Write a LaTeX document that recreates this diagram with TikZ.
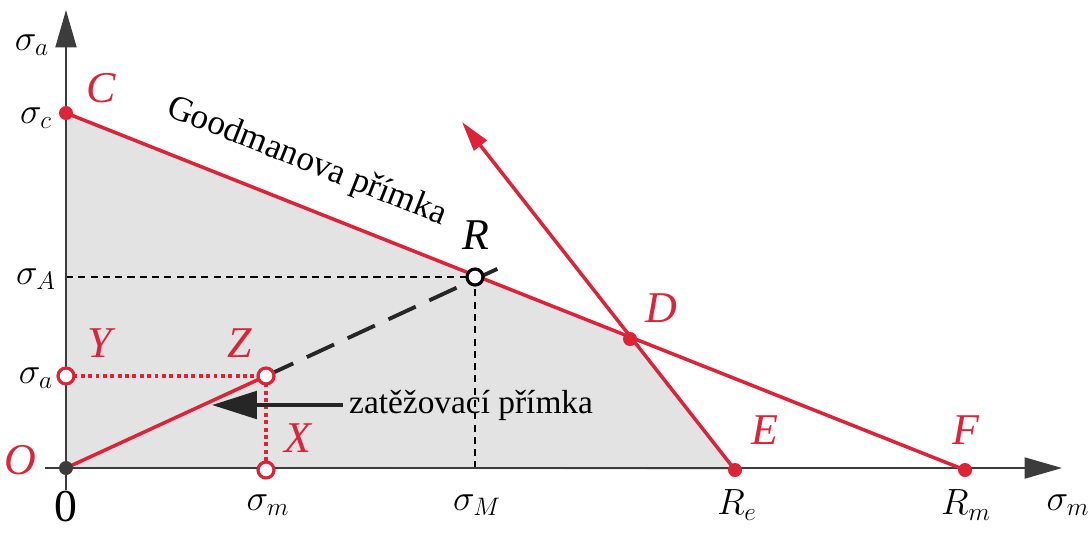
\documentclass[tikz,border=0pt]{standalone}
\usepackage{fontspec}
\setmainfont{Liberation Serif}
\usetikzlibrary{arrows.meta,positioning,calc}

\definecolor{goodred}{RGB}{220,35,55}
\definecolor{axisgray}{RGB}{60,60,60}

\begin{document}
\begin{tikzpicture}[
    x=0.02cm, y=-0.02cm,
    font=\fontsize{21}{25}\selectfont,
    axis/.style={draw=axisgray, line width=1.2pt, -{Triangle[length=0.75cm,width=0.42cm]}},
    redline/.style={draw=goodred, line width=2pt},
    helper/.style={draw=black, line width=0.8pt, dash pattern=on 4pt off 3pt},
    dotline/.style={draw=goodred, line width=2.2pt, dash pattern=on 2.2pt off 2pt},
    fulldot/.style={circle, fill=goodred, inner sep=0pt, minimum size=0.28cm},
    opendot/.style={circle, draw=goodred, fill=white, line width=1.8pt, inner sep=0pt, minimum size=0.32cm},
    pointlabel/.style={text=goodred, font=\fontsize{25}{28}\selectfont\itshape},
    axislabel/.style={inner sep=1pt}
]
\useasboundingbox (0,0) rectangle (1091,535);

% corner points of the diagram
\coordinate (O) at (66,468);
\coordinate (C) at (66,113);
\coordinate (D) at (630,339);
\coordinate (E) at (735,470);
\coordinate (F) at (965,470);
\coordinate (R) at (475,277);
\coordinate (Z) at (266,376);
\coordinate (Y) at (66,376);
\coordinate (X) at (266,470);
\coordinate (tip) at (462,122);
\coordinate (loadend) at (510,263);

% safe region
\fill[gray!22] (O) -- (C) -- (D) -- (E) -- cycle;

% helper lines for R
\draw[helper] (C |- R) -- (R);
\draw[helper] (R) -- (R |- O);

% axes
\draw[axis] (45,468) -- (1062,468);
\draw[axis] (66,490) -- (66,10);

% Goodman line and yield line
\draw[redline] (C) -- (F);
\draw[redline, -{Triangle[length=0.6cm,width=0.32cm]}] (E) -- (tip);
\path (C) -- (F) node[pos=0.25, above=0.42cm, sloped, font=\fontsize{20}{24}\selectfont] (goodtxt) {Goodmanova přímka};

% load line
\draw[draw=black!85, line width=2.2pt, dash pattern=on 0.6cm off 0.3cm] (Z) -- (loadend);
\draw[redline] (O) -- (Z);
\draw[dotline] (Y) -- (Z);
\draw[dotline] (Z) -- (X);

% arrow to the load line
\node[anchor=west, font=\fontsize{19}{23}\selectfont] (loadtxt) at (343,405) {zatěžovací přímka};
\coordinate (arrowend) at (212,405);
\draw[draw=black!85, line width=2.2pt, -{Triangle[length=0.9cm,width=0.55cm]}] (loadtxt.west) -- (arrowend);

% points
\node[fulldot] (Cdot) at (C) {};
\node[fulldot] (Ddot) at (D) {};
\node[fulldot] (Edot) at (E) {};
\node[fulldot] (Fdot) at (F) {};
\node[circle, fill=axisgray, inner sep=0pt, minimum size=0.28cm] (Odot) at (O) {};
\node[opendot] (Zdot) at (Z) {};
\node[opendot] (Ydot) at (Y) {};
\node[opendot] (Xdot) at (X) {};
\node[circle, draw=black, fill=white, line width=1.8pt, inner sep=0pt, minimum size=0.32cm] (Rdot) at (R) {};

% point names
\node[pointlabel] (Clab) at (101,88) {C};
\node[pointlabel] (Olab) at (20,460) {O};
\node[pointlabel] (Ylab) at (100,343) {Y};
\node[pointlabel] (Zlab) at (240,343) {Z};
\node[pointlabel] (Xlab) at (298,438) {X};
\node[pointlabel] (Dlab) at (661,308) {D};
\node[pointlabel] (Elab) at (765,430) {E};
\node[pointlabel] (Flab) at (966,430) {F};
\node[pointlabel, text=black] (Rlab) at (476,235) {R};

% axis values
\node[axislabel] (sa) at (32,45) {$\sigma_a$};
\node[axislabel] (sc) at (36,118) {$\sigma_c$};
\node[axislabel] (sA) at (36,279) {$\sigma_A$};
\node[axislabel] (sa2) at (36,378) {$\sigma_a$};
\node[axislabel, font=\fontsize{26}{28}\selectfont] (zero) at (66,507) {0};
\node[axislabel] (sm) at (268,505) {$\sigma_m$};
\node[axislabel] (sM) at (477,505) {$\sigma_M$};
\node[axislabel] (Re) at (737,505) {$R_e$};
\node[axislabel] (Rm) at (966,505) {$R_m$};
\node[axislabel] (sm2) at (1068,505) {$\sigma_m$};
\end{tikzpicture}
\end{document}
